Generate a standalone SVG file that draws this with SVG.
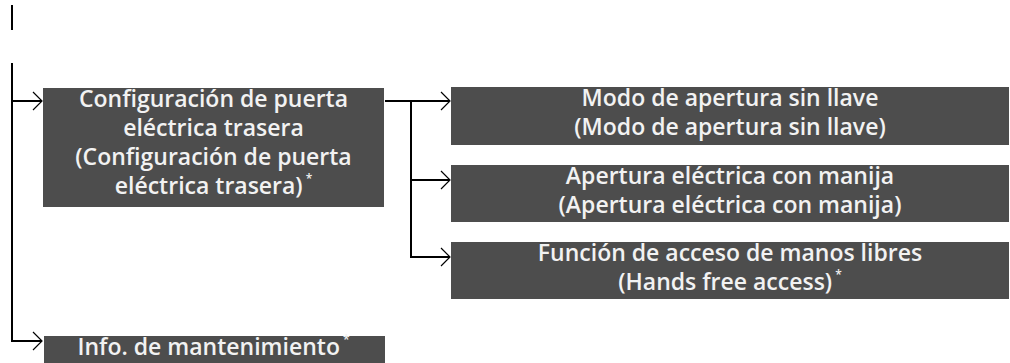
<svg xmlns="http://www.w3.org/2000/svg" width="1010" height="363" viewBox="0 0 1010 363">
<defs>
<style>
.box{fill:#4d4d4d}
.t{font-family:"Open Sans","Liberation Sans",sans-serif;font-weight:600;font-size:23px;fill:#f2f2f2;text-anchor:middle}
.s{font-size:12px}
.ln{fill:none;stroke:#000;stroke-width:2}
.ah{fill:none;stroke:#000;stroke-width:1.2}
</style>
</defs>
<g id="connectors">
<line class="ln" x1="12" y1="5" x2="12" y2="30"/>
<polyline class="ln" points="12,63 12,341 42,341"/>
<line class="ln" x1="12" y1="101" x2="42" y2="101"/>
<line class="ln" x1="385" y1="101" x2="449" y2="101"/>
<polyline class="ln" points="411,101 411,257 449,257"/>
<line class="ln" x1="411" y1="180" x2="449" y2="180"/>
<path class="ah" d="M33,92 L42,101 L33,110"/>
<path class="ah" d="M33,332 L42,341 L33,350"/>
<path class="ah" d="M441,92 L450,101 L441,110"/>
<path class="ah" d="M441,171 L450,180 L441,189"/>
<path class="ah" d="M441,248 L450,257 L441,266"/>
</g>
<g id="node-puerta">
<rect class="box" x="43" y="88" width="341" height="119"/>
<text class="t" x="213.5" y="107">Configuración de puerta</text>
<text class="t" x="213.5" y="136">eléctrica trasera</text>
<text class="t" x="213.5" y="165">(Configuración de puerta</text>
<text class="t" x="213.5" y="194">eléctrica trasera)<tspan class="s" dx="3" dy="-11">*</tspan></text>
</g>
<g id="node-modo">
<rect class="box" x="451" y="87" width="558" height="58"/>
<text class="t" x="730" y="106">Modo de apertura sin llave</text>
<text class="t" x="730" y="135">(Modo de apertura sin llave)</text>
</g>
<g id="node-manija">
<rect class="box" x="451" y="165" width="558" height="57"/>
<text class="t" x="730" y="184">Apertura eléctrica con manija</text>
<text class="t" x="730" y="213">(Apertura eléctrica con manija)</text>
</g>
<g id="node-manos">
<rect class="box" x="451" y="242" width="558" height="57"/>
<text class="t" x="730" y="261">Función de acceso de manos libres</text>
<text class="t" x="730" y="290">(Hands free access)<tspan class="s" dx="3" dy="-11">*</tspan></text>
</g>
<g id="node-info">
<rect class="box" x="44" y="336" width="341" height="27"/>
<text class="t" x="213.5" y="355">Info. de mantenimiento<tspan class="s" dx="3" dy="-11">*</tspan></text>
</g>
</svg>
